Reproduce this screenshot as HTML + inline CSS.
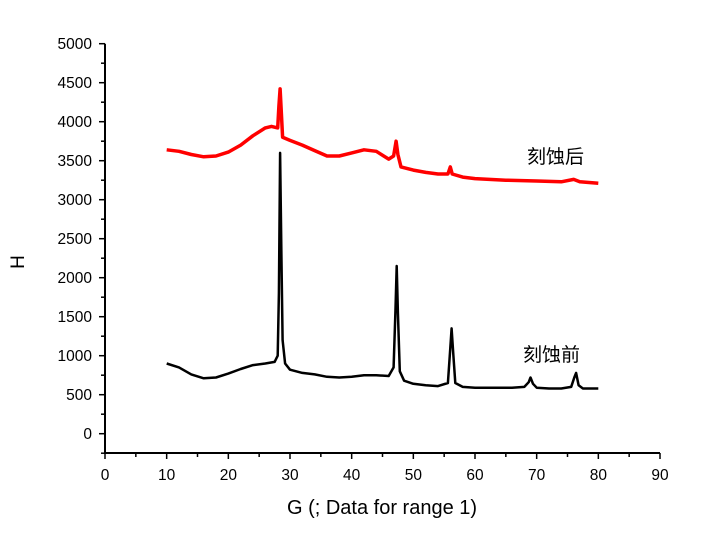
<!DOCTYPE html>
<html><head><meta charset="utf-8"><style>
body{margin:0;background:#fff}
svg text{font-family:"Liberation Sans","Noto Sans CJK SC",sans-serif}
</style></head><body>
<svg id="chart" width="713" height="530" xmlns="http://www.w3.org/2000/svg">
<g id="axes"></g>
<g id="series"></g>
<text x="0" y="0" font-size="19" text-anchor="middle" transform="translate(24,262) rotate(-90)">H</text>
<text x="382" y="514" font-size="20" text-anchor="middle">G (; Data for range 1)</text>
<text x="527" y="163" font-size="19">刻蚀后</text>
<text x="523" y="361" font-size="19">刻蚀前</text>
</svg>
<script>
const xTicks=[0,10,20,30,40,50,60,70,80,90];
const yTicks=[0,500,1000,1500,2000,2500,3000,3500,4000,4500,5000];
const beforeX=[10,12,14,16,18,20,22,24,26,27.5,28,28.2,28.4,28.6,28.8,29.2,30,32,34,36,38,40,42,44,46,46.8,47.1,47.3,47.5,47.8,48.5,50,52,54,55.6,56,56.2,56.5,56.8,58,60,62,64,66,68,68.7,69,69.4,70,72,74,75.6,76.1,76.4,76.8,77.5,80];
const beforeY=[900,850,760,710,720,770,830,880,900,920,1000,1800,3600,2300,1200,900,820,780,760,730,720,730,750,750,740,850,1600,2150,1550,800,680,640,620,610,650,1100,1350,1000,650,600,590,590,590,590,600,660,720,640,590,580,580,600,720,780,620,580,580];
const afterX=[10,12,14,16,18,20,22,24,26,27,28,28.2,28.4,28.6,28.8,30,32,34,36,38,40,42,44,46,46.8,47.2,47.5,48,50,52,54,55.6,56,56.3,58,60,65,70,74,76,77,80];
const afterY=[3640,3620,3580,3550,3560,3610,3700,3820,3920,3940,3920,4200,4420,4100,3800,3760,3700,3630,3560,3560,3600,3640,3620,3520,3560,3750,3580,3420,3380,3350,3330,3330,3420,3330,3290,3270,3250,3240,3230,3260,3230,3210];
const X=v=>105+v*6.1667;
const Y=v=>433.7-v*0.078;
const NS="http://www.w3.org/2000/svg";
const axes=document.getElementById('axes');
function mk(tag,attrs,parent){const e=document.createElementNS(NS,tag);for(const k in attrs)e.setAttribute(k,attrs[k]);parent.appendChild(e);return e;}
const yAxis=mk('line',{x1:105,y1:Y(5000),x2:105,y2:453,stroke:'#000','stroke-width':2},axes);


const xAxis=mk('line',{x1:104,y1:453,x2:X(90),y2:453,stroke:'#000','stroke-width':2},axes);


for(let v=-250;v<=5000;v+=250){const major=v%500===0;mk('line',{x1:105-(major?6:4),y1:Y(v),x2:105,y2:Y(v),stroke:'#000','stroke-width':1.5},axes);}
yTicks.forEach(v=>{const t=mk('text',{x:92,y:Y(v)+5.5,'font-size':15.5,'text-anchor':'end'},axes);t.textContent=v;

});
for(let v=0;v<=90;v+=5){const major=v%10===0;mk('line',{x1:X(v),y1:453,x2:X(v),y2:453+(major?6:4),stroke:'#000','stroke-width':1.5},axes);}
xTicks.forEach(v=>{const t=mk('text',{x:X(v),y:480,'font-size':15.5,'text-anchor':'middle'},axes);t.textContent=v;

});
const ser=document.getElementById('series');
function line(xs,ys,color,w){return mk('polyline',{points:xs.map((x,i)=>X(x).toFixed(1)+','+Y(ys[i]).toFixed(1)).join(' '),fill:'none',stroke:color,'stroke-width':w,'stroke-linejoin':'round'},ser);}
const b=line(beforeX,beforeY,'#000',2.5);


const a=line(afterX,afterY,'#f00',3.5);


</script>
</body></html>
